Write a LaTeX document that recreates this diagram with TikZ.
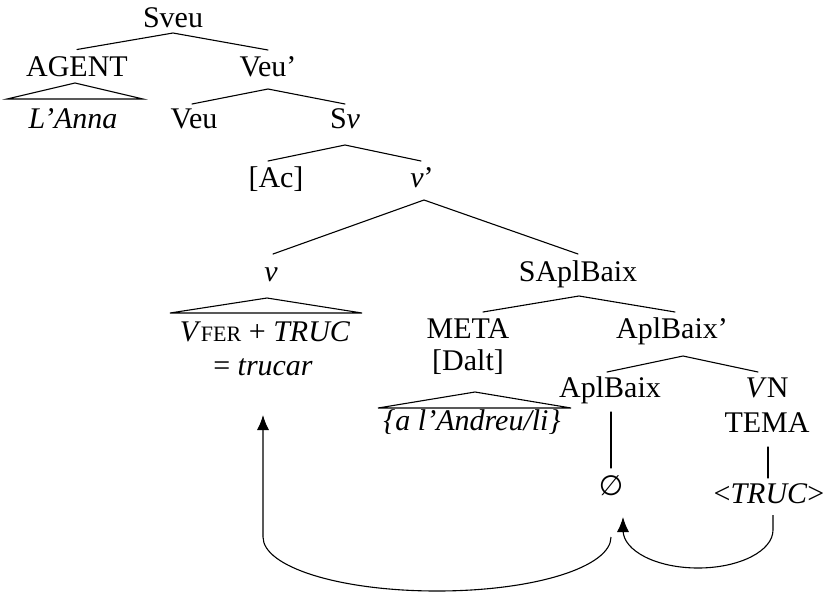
\documentclass[tikz,border=0pt]{standalone}
\usepackage{fontspec}
\setmainfont{Liberation Serif}
\newfontfamily\symf{DejaVu Sans}
\usetikzlibrary{arrows.meta}
\begin{document}
\begin{tikzpicture}[x=1pt,y=-1pt,
  lab/.style={inner sep=0pt, anchor=base, font=\fontsize{30}{36}\selectfont},
  edge/.style={line width=1.1pt, line cap=round},
  mvarrow/.style={line width=1.1pt, -{Latex[length=15pt,width=12pt]}}]
\useasboundingbox (0,0) rectangle (829,592);
% nodes
\node[lab] (sveu) at (173,27) {Sveu};
\node[lab] (agent) at (77,76) {AGENT};
\node[lab] (veup) at (268,76) {Veu'};
\node[lab] (anna) at (73,128) {\textit{L'Anna}};
\node[lab] (veu) at (194,128) {Veu};
\node[lab] (sv) at (345,128) {S\textit{v}};
\node[lab] (ac) at (276,187) {[Ac]};
\node[lab] (vp) at (422,187) {\textit{v}'};
\node[lab] (vv) at (271,281) {\textit{v}};
\node[lab] (sapl) at (578,281) {SAplBaix};
\node[lab] (vfer) at (265,341) {\textit{V}{\fontsize{22}{26}\selectfont FER} + \textit{TRUC}};
\node[lab] (trucar) at (263,375) {= \textit{trucar}};
\node[lab] (meta) at (468,338) {META};
\node[lab] (dalt) at (468,370) {[Dalt]};
\node[lab] (aplp) at (672,338) {AplBaix'};
\node[lab] (andreu) at (472,430) {\textit{\{a l'Andreu/li\}}};
\node[lab] (apl) at (610,397) {AplBaix};
\node[lab] (vn) at (767,397) {\textit{V}N};
\node[lab] (tema) at (767,432) {TEMA};
\node[inner sep=0pt, font=\symf\fontsize{28}{32}\selectfont] (empty) at (611,486) {∅};
\node[lab] (truc) at (769,503) {<\textit{TRUC}>};
% tree edges
\draw[edge] ([yshift=26.5pt]agent.base) -- ([yshift=-6pt]sveu.base) -- ([yshift=26pt]veup.base);
\draw[edge] ([xshift=-2pt,yshift=24pt]veu.base) -- ([yshift=-13pt]veup.base) -- ([yshift=24pt]sv.base);
\draw[edge] ([xshift=-8pt,yshift=26pt]ac.base) -- ([yshift=-17pt]sv.base) -- ([xshift=-1pt,yshift=26pt]vp.base);
\draw[edge] ([xshift=2pt,yshift=27pt]vv.base) -- ([xshift=2pt,yshift=-13pt]vp.base) -- ([yshift=27pt]sapl.base);
\draw[edge] ([xshift=15pt,yshift=26pt]meta.base) -- ([xshift=1pt,yshift=-15pt]sapl.base) -- ([xshift=3pt,yshift=26pt]aplp.base);
\draw[edge] ([xshift=-3pt,yshift=25pt]apl.base) -- ([xshift=11pt,yshift=-18pt]aplp.base) -- ([xshift=-9pt,yshift=25pt]vn.base);
\draw[edge] ([xshift=1pt,yshift=-15pt]apl.base) -- ([yshift=18pt]empty.center);
\draw[edge] ([xshift=1pt,yshift=-15pt]tema.base) -- ([xshift=-1pt,yshift=25pt]truc.base);
% triangles
\draw[edge, line join=miter] ([xshift=-66pt,yshift=29pt]anna.base) -- ([xshift=-2pt,yshift=-7pt]agent.base) -- ([xshift=70pt,yshift=29pt]anna.base) -- cycle;
\draw[edge, line join=miter] ([xshift=-95pt,yshift=28pt]vfer.base) -- ([xshift=-4pt,yshift=-17pt]vv.base) -- ([xshift=97pt,yshift=28pt]vfer.base) -- cycle;
\draw[edge, line join=miter] ([xshift=-94pt,yshift=22pt]andreu.base) -- ([xshift=7pt,yshift=-22pt]dalt.base) -- ([xshift=99pt,yshift=22pt]andreu.base) -- cycle;
% movement arrows
\draw[mvarrow] ([yshift=-51pt]empty.center) .. controls (611,566.8) and (535,591) .. (437,591)
   .. controls (339,591) and (263,566.8) .. (263,537) -- ([yshift=-40pt]trucar.base);
\draw[mvarrow] ([xshift=4pt,yshift=-12pt]truc.base) -- (773,530) .. controls (773,551) and (739.4,568) .. (698,568)
   .. controls (656.6,568) and (623,551) .. (623,530) -- ([xshift=12pt,yshift=-31pt]empty.center);
\end{tikzpicture}
\end{document}
